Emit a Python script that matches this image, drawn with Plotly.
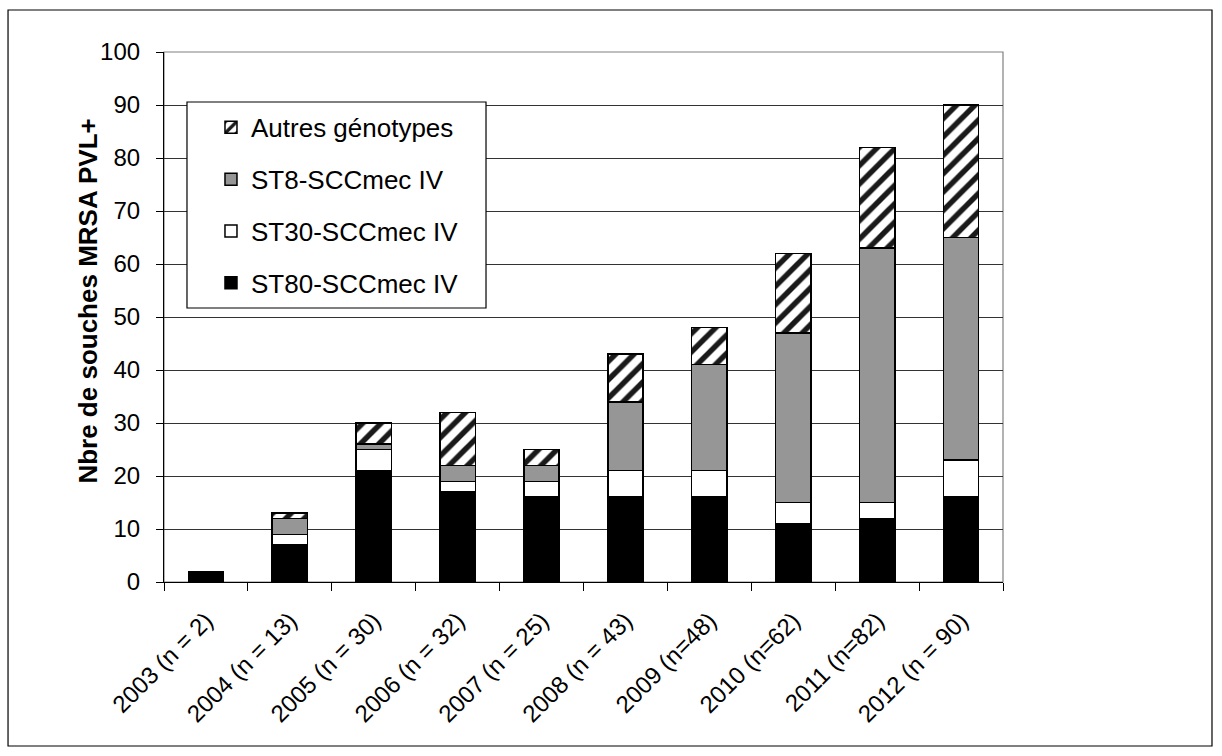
import plotly.graph_objects as go

years = ["2003 (n = 2)", "2004 (n = 13)", "2005 (n = 30)", "2006 (n = 32)",
         "2007 (n = 25)", "2008 (n = 43)", "2009 (n=48)", "2010 (n=62)",
         "2011 (n=82)", "2012 (n = 90)"]
st80 = [2, 7, 21, 17, 16, 16, 16, 11, 12, 16]
st30 = [0, 2, 4, 2, 3, 5, 5, 4, 3, 7]
st8 = [0, 3, 1, 3, 3, 13, 20, 32, 48, 42]
autres = [0, 1, 4, 10, 3, 9, 7, 15, 19, 25]

y_ticks = list(range(0, 101, 10))

FONT = "Liberation Sans, Arial, sans-serif"
outline = dict(color="black", width=1.5)

fig = go.Figure()
series = [
    ("ST80-SCCmec IV", st80, dict(color="black", line=outline)),
    ("ST30-SCCmec IV", st30, dict(color="white", line=outline)),
    ("ST8-SCCmec IV", st8, dict(color="#969696", line=outline)),
    ("Autres génotypes", autres, dict(color="white", line=outline,
                                      pattern=dict(shape="/", fgcolor="#1a1a1a",
                                                   bgcolor="white", size=13,
                                                   solidity=0.42, fillmode="replace"))),
]
# legend lists the top segment first
ranks = [4, 3, 2, 1]
for i, (name, vals, marker) in enumerate(series):
    fig.add_trace(go.Bar(
        x=years, y=vals, name=name, marker=marker, width=0.42,
        legendgroup=f"g{i}", legendrank=ranks[i], hoverinfo="name+y",
    ))

fig.update_layout(
    width=1222, height=756,
    barmode="stack",
    paper_bgcolor="white", plot_bgcolor="white",
    margin=dict(l=164, r=219, t=52, b=174),
    font=dict(family=FONT, size=24, color="black"),
    showlegend=True,
    legend=dict(
        x=0.056, y=0.902, xanchor="left", yanchor="top",
        traceorder="grouped", tracegroupgap=15,
        bgcolor="rgba(0,0,0,0)", borderwidth=0,
        font=dict(family=FONT, size=26, color="black"),
        itemwidth=30,
    ),
    shapes=[
        # outer frame of the chart
        dict(type="rect", xref="paper", yref="paper",
             x0=-0.1859, x1=1.2491, y0=-0.3094, y1=1.0792,
             line=dict(color="black", width=1.2), layer="below"),
        # plot area border
        dict(type="rect", xref="paper", yref="paper",
             x0=0, x1=1, y0=0, y1=1,
             line=dict(color="#808080", width=1.2), layer="below"),
        # legend frame
        dict(type="rect", xref="paper", yref="paper",
             x0=0.0274, x1=0.3838, y0=0.517, y1=0.9057,
             line=dict(color="black", width=1.2), fillcolor="white", layer="above"),
    ],
    annotations=[
        dict(text="<b>Nbre de souches MRSA PVL+</b>", textangle=-90,
             xref="paper", yref="paper", x=-0.09, y=0.53,
             xanchor="center", yanchor="middle", showarrow=False,
             font=dict(family=FONT, size=26, color="black")),
    ],
)

fig.update_xaxes(
    type="category", showline=True, linecolor="black", linewidth=1.2,
    ticks="outside", tickson="boundaries", ticklen=8, tickcolor="black",
    tickangle=-45, showgrid=False, tickfont=dict(size=24),
    ticklabelstandoff=14,
)
fig.update_yaxes(
    range=[0, 100], tickvals=y_ticks, showline=True, linecolor="black",
    linewidth=1.2, ticks="outside", ticklen=7, tickcolor="black",
    showgrid=True, gridcolor="#333333", gridwidth=1.2, zeroline=False,
    tickfont=dict(size=24), ticklabelstandoff=11,
)

fig.write_html("out.html")
